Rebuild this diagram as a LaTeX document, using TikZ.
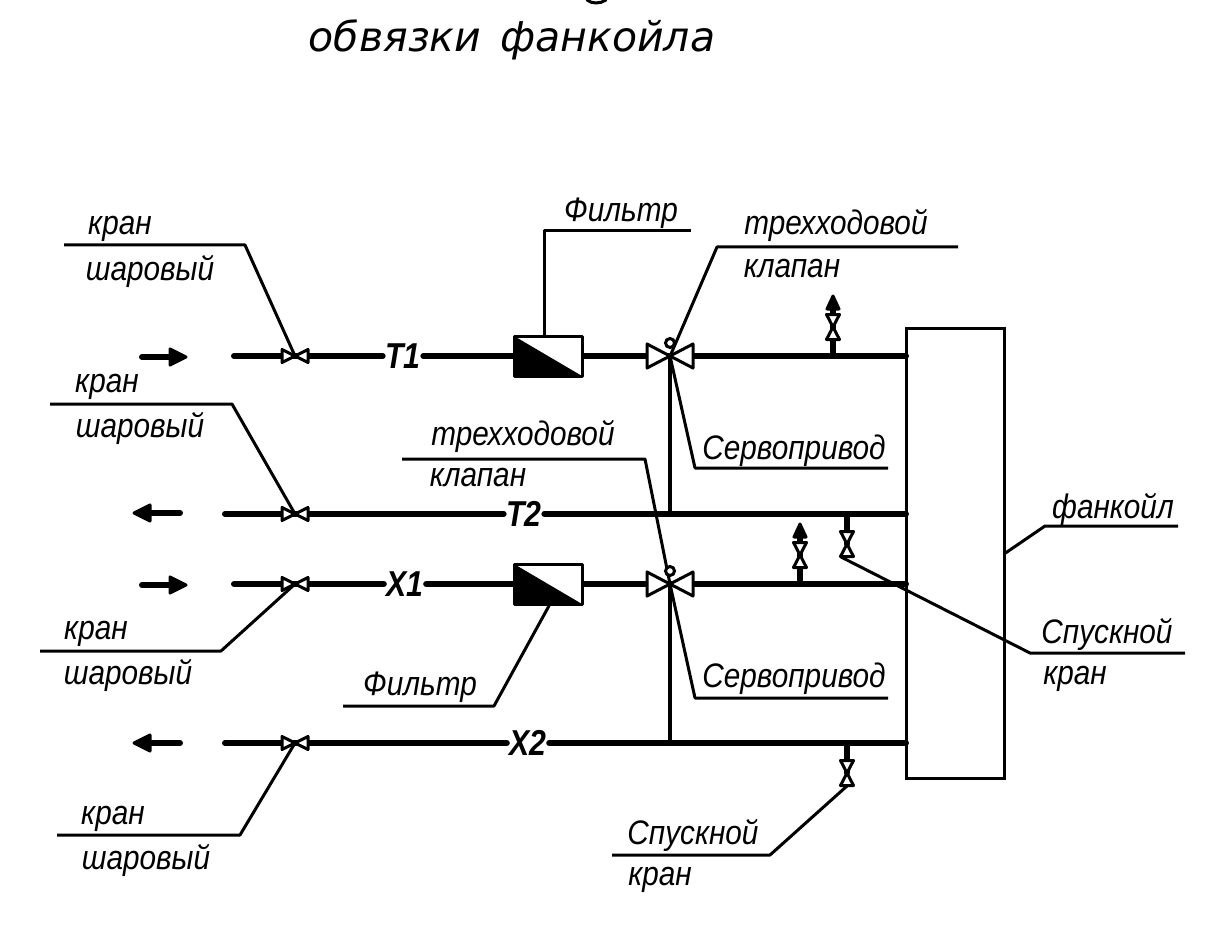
\documentclass[tikz,border=0pt]{standalone}
\usepackage{fontspec}
\setmainfont{Liberation Sans}
\newfontfamily\titlefont{DejaVu Sans}
\tikzset{
  pipe/.style={line width=6pt,line cap=round},
  thin/.style={line width=3pt,line join=round},
  vtri/.style={line width=3pt,fill=white,line join=round},
  lab/.style={font=\fontsize{34}{36}\selectfont\itshape,inner sep=0pt,xscale=.875,yshift=-3.5pt},
  tag/.style={font=\fontsize{36}{38}\selectfont\bfseries\itshape,inner sep=3pt,xscale=.84},
  flow/.style={line width=6pt,line cap=round},
  ahead/.style={line width=3pt,line join=round,fill=black},
}
% horizontal valve: apex at #1, half width #2, half height #3
\newcommand{\hvalve}[3]{%
  \draw[vtri] (#1) -- ++(-#2,-#3) -- ++(0,2*#3) -- cycle;
  \draw[vtri] (#1) -- ++(#2,-#3) -- ++(0,2*#3) -- cycle;}
\newcommand{\vvalve}[3]{%
  \draw[vtri] (#1) -- ++(-#3,-#2) -- ++(2*#3,0) -- cycle;
  \draw[vtri] (#1) -- ++(-#3,#2) -- ++(2*#3,0) -- cycle;}
\newcommand{\rhead}[1]{\draw[ahead] (#1) ++(-2,0) -- ++(-16,-8) -- ++(0,16) -- cycle;}
\newcommand{\lhead}[1]{\draw[ahead] (#1) ++(2,0) -- ++(16,-8) -- ++(0,16) -- cycle;}
\newcommand{\uhead}[1]{\draw[ahead] (#1) ++(0,2) -- ++(-6,13) -- ++(12,0) -- cycle;}
\newcommand{\leader}[3]{\draw[thin] (#1) -- (#2) -- (#3);}
\begin{document}
\begin{tikzpicture}[x=1pt,y=-1pt]
\useasboundingbox[fill=white] (0,0) rectangle (1208,928);

% title
\node[font=\fontsize{41}{43}\selectfont\titlefont\itshape,inner sep=0pt,anchor=base] (title) at (512,52) {обвязки\hspace{6pt} фанкойла};
\coordinate (ga) at (587,0); \coordinate (gb) at (606,0);
\draw[line width=3pt,line cap=round] (ga) .. controls (592,4) and (600,4) .. (gb);

% fan coil
\node[draw,line width=3pt,minimum width=98pt,minimum height=450pt,inner sep=0pt,outer sep=0pt,anchor=north west] (fc) at (906,328) {};

% coordinates on pipes
\coordinate (aT1a) at (142,357); \coordinate (aT1b) at (172,357);
\coordinate (aT2a) at (180,513); \coordinate (aT2b) at (148,513);
\coordinate (aX1a) at (142,585); \coordinate (aX1b) at (172,585);
\coordinate (aX2a) at (180,743); \coordinate (aX2b) at (148,743);
\coordinate (sT1) at (234,356); \coordinate (sT2) at (225,514);
\coordinate (sX1) at (234,584); \coordinate (sX2) at (225,743);
\coordinate (vT1) at (295,356); \coordinate (vT2) at (295,514);
\coordinate (vX1) at (295,584); \coordinate (vX2) at (295,743);
\coordinate (tT1) at (670,356); \coordinate (tX1) at (670,584);
\coordinate (eT1) at (906,356); \coordinate (eT2) at (906,514);
\coordinate (eX1) at (906,584); \coordinate (eX2) at (906,743);
\coordinate (jT2) at (670,514); \coordinate (jX2) at (670,743);
\coordinate (bU1) at (833,356); \coordinate (vU1) at (833,327); \coordinate (pU1) at (833,308); \coordinate (hU1) at (833,294);
\coordinate (bU2) at (800,584); \coordinate (vU2) at (800,555); \coordinate (pU2) at (800,536); \coordinate (hU2) at (800,522);
\coordinate (bD1) at (847,514); \coordinate (vD1) at (847,544);
\coordinate (bD2) at (847,743); \coordinate (vD2) at (847,773);

% filters
\node[inner sep=0pt,outer sep=0pt,minimum width=68pt,minimum height=40pt,anchor=center] (fT) at (548,356) {};
\node[inner sep=0pt,outer sep=0pt,minimum width=68pt,minimum height=40pt,anchor=center] (fX) at (548,584) {};

% pipe labels
\node[tag] (lT1) at (403,356) {T1};
\node[tag] (lT2) at (524,514) {T2};
\node[tag] (lX1) at (405,584) {X1};
\node[tag] (lX2) at (528,743) {X2};

% pipes
\draw[pipe] (sT1) -- (vT1) -- (lT1.west);
\draw[pipe] (lT1.east) -- (fT.west);
\draw[pipe] (fT.east) -- (tT1) -- (eT1);
\draw[pipe] (sT2) -- (vT2) -- (lT2.west);
\draw[pipe] (lT2.east) -- (eT2);
\draw[pipe] (sX1) -- (vX1) -- (lX1.west);
\draw[pipe] (lX1.east) -- (fX.west);
\draw[pipe] (fX.east) -- (tX1) -- (eX1);
\draw[pipe] (sX2) -- (vX2) -- (lX2.west);
\draw[pipe] (lX2.east) -- (eX2);
\draw[pipe] (bU1) -- (vU1);
\draw[pipe] (bU2) -- (vU2);
\draw[pipe] (bD1) -- (vD1);
\draw[pipe] (bD2) -- (vD2);
\draw[pipe] (vU1) -- (pU1);
\draw[pipe] (vU2) -- (pU2);

% flow arrows
\draw[flow] (aT1a) -- (aT1b); \rhead{188,357}
\draw[flow] (aT2a) -- (aT2b); \lhead{132,513}
\draw[flow] (aX1a) -- (aX1b); \rhead{188,585}
\draw[flow] (aX2a) -- (aX2b); \lhead{132,743}
\uhead{hU1} \uhead{hU2}

% filters drawn over pipes
\foreach \f in {fT,fX}{
  \fill[white] (\f.north west) rectangle (\f.south east);
  \fill (\f.north west) -- (\f.south east) -- (\f.south west) -- cycle;
  \draw[thin] (\f.north west) rectangle (\f.south east);
}

% actuator stems
\draw[line width=4pt] (tT1) -- (jT2);
\draw[line width=4pt] (tX1) -- (jX2);

% leaders
\coordinate (a1) at (64,245); \coordinate (a2) at (245,245);
\coordinate (b1) at (50,404); \coordinate (b2) at (232,404);
\coordinate (c1) at (40,651); \coordinate (c2) at (221,651);
\coordinate (d1) at (57,835); \coordinate (d2) at (240,835);
\coordinate (e1) at (691,231); \coordinate (e2) at (544,231);
\coordinate (f1) at (958,247); \coordinate (f2) at (717,247); \coordinate (f3) at (671,354);
\coordinate (g1) at (888,468); \coordinate (g2) at (695,468);
\coordinate (h1) at (402,459); \coordinate (h2) at (645,459);
\coordinate (i1) at (343,706); \coordinate (i2) at (494,706); \coordinate (i3) at (550,604);
\coordinate (j1) at (888,698); \coordinate (j2) at (695,698);
\coordinate (k1) at (1185,653); \coordinate (k2) at (1030,653); \coordinate (k3) at (841,557);
\coordinate (l1) at (612,855); \coordinate (l2) at (770,855); \coordinate (l3) at (847,786);
\coordinate (m1) at (1178,526); \coordinate (m2) at (1045,526); \coordinate (m3) at (1004,554);
\leader{a1}{a2}{vT1}
\leader{b1}{b2}{vT2}
\leader{c1}{c2}{vX1}
\leader{d1}{d2}{vX2}
\leader{e1}{e2}{fT.north -| e2}
\leader{f1}{f2}{f3}
\leader{g1}{g2}{tT1}
\leader{h1}{h2}{tX1}
\leader{i1}{i2}{i3}
\leader{j1}{j2}{tX1}
\leader{k1}{k2}{k3}
\leader{l1}{l2}{l3}
\leader{m1}{m2}{m3}

% valves
\hvalve{vT1}{13}{6.5}
\hvalve{vT2}{13}{6.5}
\hvalve{vX1}{13}{6.5}
\hvalve{vX2}{13}{6.5}
\hvalve{tT1}{23}{12}
\hvalve{tX1}{23}{12}
\vvalve{vU1}{12.5}{6.5}
\vvalve{vU2}{12.5}{6.5}
\vvalve{vD1}{12.5}{6.5}
\vvalve{vD2}{12.5}{6.5}
\draw[line width=3pt,fill=white] (670,343) circle (4.5);
\draw[line width=3pt,fill=white] (670,571) circle (4.5);

% labels
\node[lab] (t1) at (120,225) {кран};
\node[lab] (t2) at (150,268) {шаровый};
\node[lab] (t3) at (107,383) {кран};
\node[lab] (t4) at (140,425) {шаровый};
\node[lab] (t5) at (96,630) {кран};
\node[lab] (t6) at (128,672) {шаровый};
\node[lab] (t7) at (113,815) {кран};
\node[lab] (t8) at (146,857) {шаровый};
\node[lab] (t9) at (621,210) {Фильтр};
\node[lab] (t10) at (836,222) {трехходовой};
\node[lab] (t11) at (792,265) {клапан};
\node[lab] (t12) at (794,447) {Сервопривод};
\node[lab] (t13) at (523,433) {трехходовой};
\node[lab] (t14) at (478,474) {клапан};
\node[lab] (t15) at (420,684) {Фильтр};
\node[lab] (t16) at (794,675) {Сервопривод};
\node[lab] (t17) at (1107,631) {Спускной};
\node[lab] (t18) at (1075,675) {кран};
\node[lab] (t19) at (693,832) {Спускной};
\node[lab] (t20) at (660,876) {кран};
\node[lab] (t21) at (1113,506) {фанкойл};
\end{tikzpicture}
\end{document}
